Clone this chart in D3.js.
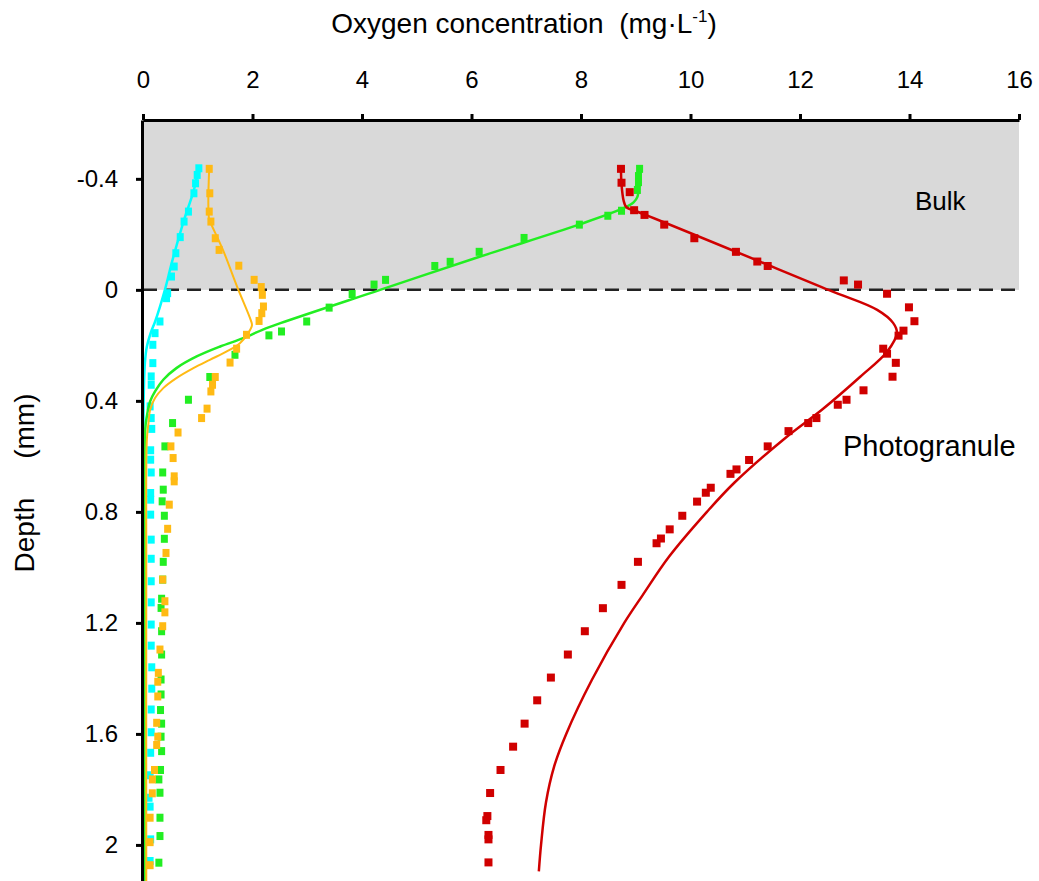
<!DOCTYPE html>
<html>
<head>
<meta charset="utf-8">
<script src="https://cdn.jsdelivr.net/npm/d3@7"></script>
<style>
  html, body { margin: 0; padding: 0; background: #fff; }
  svg { display: block; font-family: "Liberation Sans", Arial, sans-serif; }
</style>
</head>
<body>
<svg id="chart" width="1039" height="881"></svg>
<script>
// Axis ticks
const xTicks = [0, 2, 4, 6, 8, 10, 12, 14, 16];
const yTicks = [-0.4, 0, 0.4, 0.8, 1.2, 1.6, 2];

// Measured profiles: depth (mm) and O2 concentration (mg/L)
const cyanDepth = [-0.438,-0.414,-0.384,-0.348,-0.282,-0.246,-0.190,-0.132,-0.084,-0.048,0.012,0.030,0.114,0.156,0.198,0.264,0.312,0.342,0.420,0.462,0.501,0.578,0.612,0.658,0.732,0.756,0.810,0.900,0.969,1.050,1.126,1.206,1.282,1.360,1.437,1.512,1.594,1.668,1.749,1.830,1.862,1.980,2.058];
const cyanConc  = [1.02,0.99,0.96,0.93,0.83,0.75,0.68,0.60,0.57,0.52,0.45,0.43,0.31,0.22,0.18,0.18,0.15,0.15,0.13,0.15,0.16,0.14,0.14,0.15,0.14,0.14,0.14,0.15,0.15,0.15,0.15,0.15,0.15,0.16,0.16,0.15,0.15,0.14,0.13,0.11,0.13,0.14,0.13];

const greenDepth = [-0.436,-0.410,-0.388,-0.360,-0.285,-0.267,-0.235,-0.187,-0.137,-0.101,-0.086,-0.036,-0.019,0.015,0.064,0.114,0.150,0.164,0.234,0.314,0.396,0.480,0.564,0.658,0.720,0.762,0.814,0.897,0.980,1.044,1.113,1.146,1.230,1.314,1.404,1.458,1.514,1.563,1.610,1.662,1.730,1.764,1.812,1.902,1.968,2.064];
const greenConc  = [9.07,9.05,9.05,9.03,8.74,8.49,7.97,6.96,6.14,5.61,5.33,4.43,4.22,3.82,3.40,2.99,2.53,2.30,1.68,1.22,0.83,0.54,0.40,0.36,0.37,0.35,0.39,0.39,0.37,0.36,0.34,0.33,0.34,0.34,0.33,0.33,0.32,0.34,0.33,0.34,0.32,0.29,0.31,0.31,0.31,0.29];

const orangeDepth = [-0.436,-0.348,-0.282,-0.246,-0.186,-0.144,-0.087,-0.036,-0.010,0.018,0.060,0.084,0.112,0.162,0.212,0.262,0.314,0.342,0.366,0.428,0.462,0.514,0.564,0.606,0.672,0.690,0.774,0.861,0.948,1.044,1.122,1.162,1.212,1.296,1.380,1.412,1.465,1.560,1.610,1.640,1.730,1.764,1.814,1.902,1.990,2.073];
const orangeConc  = [1.21,1.22,1.21,1.24,1.32,1.39,1.75,2.03,2.16,2.18,2.20,2.17,2.12,1.89,1.71,1.59,1.32,1.27,1.24,1.17,1.07,0.64,0.51,0.55,0.57,0.57,0.48,0.45,0.42,0.36,0.40,0.40,0.36,0.31,0.28,0.27,0.27,0.25,0.27,0.25,0.21,0.17,0.17,0.13,0.13,0.13];

const redDepth = [-0.436,-0.386,-0.352,-0.287,-0.270,-0.235,-0.186,-0.137,-0.102,-0.086,-0.034,-0.019,0.014,0.063,0.113,0.147,0.165,0.212,0.230,0.263,0.313,0.362,0.396,0.414,0.462,0.480,0.509,0.564,0.613,0.647,0.663,0.713,0.731,0.763,0.814,0.863,0.896,0.913,0.980,1.063,1.147,1.230,1.314,1.397,1.479,1.563,1.646,1.730,1.813,1.896,1.911,1.964,1.980,2.063];
const redConc  = [8.73,8.74,8.89,8.97,9.16,9.52,10.07,10.83,11.22,11.41,12.80,13.06,13.59,13.99,14.09,13.89,13.80,13.52,13.59,13.75,13.69,13.16,12.85,12.69,12.30,12.15,11.79,11.41,11.07,10.84,10.73,10.37,10.28,10.12,9.85,9.62,9.46,9.38,9.04,8.74,8.40,8.07,7.76,7.45,7.20,6.97,6.76,6.53,6.34,6.29,6.27,6.31,6.31,6.31];

// Model (fitted) profiles
const cyanFitDepth = [-0.443,-0.360,-0.252,-0.101,0,0.115,0.150,0.205,0.263,0.400,1.0,2.13];
const cyanFitConc  = [1.02,0.93,0.75,0.53,0.40,0.22,0.15,0.07,0.035,0.012,0.008,0.008];

const greenFitDepth = [-0.439,-0.380,-0.335,-0.315,-0.296,-0.235,-0.120,0,0.120,0.144,0.174,0.204,0.240,0.282,0.324,0.366,0.402,0.456,0.504,1.0,2.13];
const greenFitConc  = [9.07,9.06,9.03,8.96,8.80,7.96,6.16,4.33,2.51,2.18,1.83,1.41,0.98,0.61,0.37,0.22,0.13,0.07,0.04,0.03,0.03];

const orangeFitDepth = [-0.439,-0.252,-0.230,-0.144,-0.011,0.110,0.128,0.156,0.192,0.222,0.252,0.282,0.318,0.354,0.390,0.432,0.480,0.540,1.0,2.13];
const orangeFitConc  = [1.21,1.21,1.26,1.46,1.72,1.97,1.99,1.92,1.77,1.53,1.22,0.92,0.61,0.37,0.22,0.13,0.10,0.07,0.06,0.06];

const redFitDepth = [-0.439,-0.380,-0.320,-0.300,-0.291,-0.287,0,0.072,0.119,0.155,0.223,0.313,0.432,0.529,0.695,0.800,0.961,1.099,1.200,1.405,1.600,1.717,1.847,2.000,2.095];
const redFitConc  = [8.73,8.74,8.78,8.82,8.89,8.96,12.52,13.41,13.70,13.77,13.59,13.10,12.40,11.76,10.80,10.30,9.61,9.13,8.79,8.20,7.73,7.51,7.36,7.27,7.23];

const series = [
  { name: "cyan",   color: "#00FFFF", depth: cyanDepth,   conc: cyanConc,   fitDepth: cyanFitDepth,   fitConc: cyanFitConc,   lw: 2.5, mw: 7 },
  { name: "green",  color: "#22EE22", depth: greenDepth,  conc: greenConc,  fitDepth: greenFitDepth,  fitConc: greenFitConc,  lw: 2.5, mw: 7 },
  { name: "orange", color: "#FFBA14", depth: orangeDepth, conc: orangeConc, fitDepth: orangeFitDepth, fitConc: orangeFitConc, lw: 2,   mw: 7 },
  { name: "red",    color: "#D00000", depth: redDepth,    conc: redConc,    fitDepth: redFitDepth,    fitConc: redFitConc,    lw: 2.5, mw: 8 }
];

const svg = d3.select("#chart");
const x = d3.scaleLinear().domain([0, 16]).range([143, 1019]);
const y = d3.scaleLinear().domain([-0.612, 2.13]).range([120, 881]);

// Bulk liquid zone (above the granule surface)
svg.append("rect")
  .attr("x", x(0)).attr("y", y(-0.612))
  .attr("width", x(16) - x(0)).attr("height", y(0) - y(-0.612))
  .attr("fill", "#D9D9D9");

// Granule surface
svg.append("line")
  .attr("x1", x(0)).attr("x2", x(16))
  .attr("y1", y(0)).attr("y2", y(0))
  .attr("stroke", "#222").attr("stroke-width", 2.5)
  .attr("stroke-dasharray", "14,8");

const plot = svg.append("g");
const lineGen = d3.line().curve(d3.curveCatmullRom.alpha(0.5));

series.forEach(s => {
  const g = plot.append("g").attr("class", "series-" + s.name);
  const pts = s.depth.map((d, i) => ({ d, c: s.conc[i] }));
  g.selectAll("rect").data(pts).enter().append("rect")
    .attr("x", p => x(p.c) - s.mw / 2)
    .attr("y", p => y(p.d) - 4)
    .attr("width", s.mw).attr("height", 8)
    .attr("fill", s.color);
  const fit = s.fitDepth.map((d, i) => [x(s.fitConc[i]), y(d)]);
  g.append("path")
    .attr("d", lineGen(fit))
    .attr("fill", "none")
    .attr("stroke", s.color)
    .attr("stroke-width", s.lw);
});

// Axes
const xAxis = svg.append("g")
  .attr("transform", `translate(0,${y(-0.612)})`)
  .call(d3.axisTop(x).tickValues(xTicks).tickSize(6).tickSizeOuter(0).tickPadding(26).tickFormat(d => String(d)));
const yAxis = svg.append("g")
  .attr("transform", `translate(${x(0) - 1},0)`)
  .call(d3.axisLeft(y).tickValues(yTicks).tickSize(6).tickSizeOuter(0).tickPadding(18).tickFormat(d => String(d)));

[xAxis, yAxis].forEach(a => {
  a.select(".domain").attr("stroke", "#000").attr("stroke-width", 3);
  a.selectAll(".tick line").attr("stroke", "#000").attr("stroke-width", 3);
  a.selectAll(".tick text")
    .attr("fill", "#000")
    .style("font-family", "'Liberation Sans', Arial, sans-serif")
    .style("font-size", "24px");
});

// Titles
const title = svg.append("text")
  .attr("x", 524).attr("y", 33)
  .attr("text-anchor", "middle")
  .style("font-size", "28px")
  .style("white-space", "pre")
  .attr("fill", "#000");
title.append("tspan").text("Oxygen concentration  (mg\u00B7L");
title.append("tspan").attr("dy", -11).style("font-size", "17px").text("-1");
title.append("tspan").attr("dy", 11).text(")");

svg.append("text")
  .attr("transform", "translate(34,483) rotate(-90)")
  .attr("text-anchor", "middle")
  .style("font-size", "28px")
  .style("white-space", "pre")
  .attr("fill", "#000")
  .text("Depth     (mm)");

svg.append("text")
  .attr("x", 915).attr("y", 210)
  .style("font-size", "26px")
  .attr("fill", "#000")
  .text("Bulk");

svg.append("text")
  .attr("x", 843).attr("y", 456)
  .style("font-size", "29px")
  .attr("fill", "#000")
  .text("Photogranule");
</script>
</body>
</html>
